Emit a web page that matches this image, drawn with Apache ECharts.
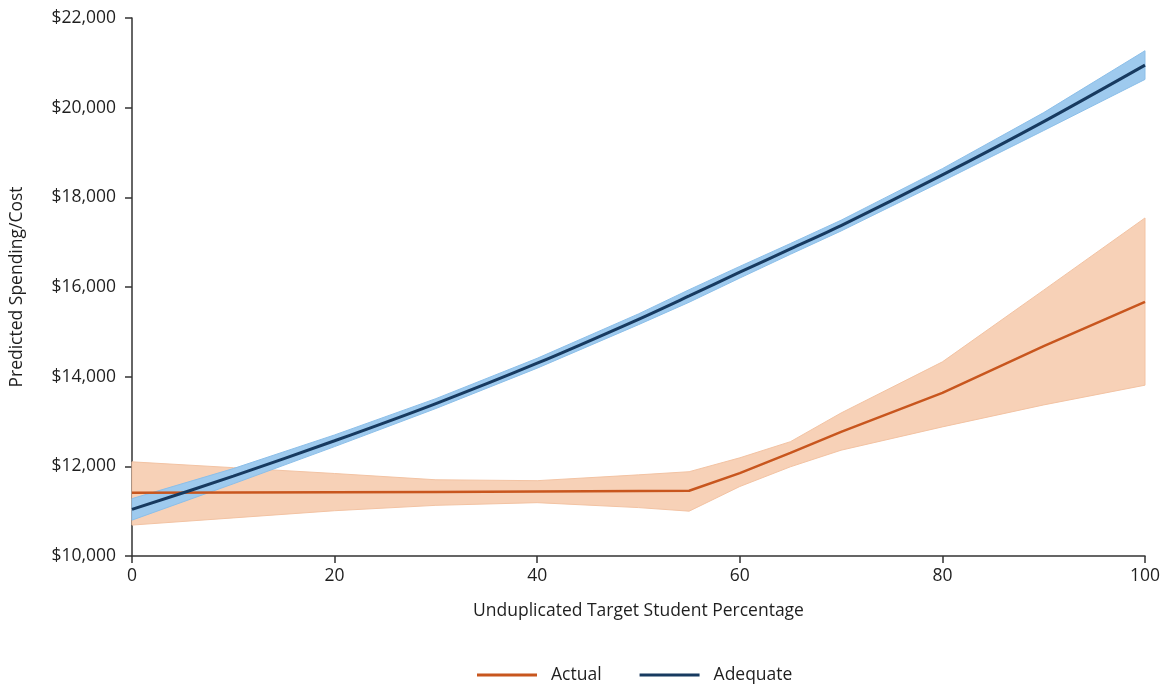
<!DOCTYPE html>
<html>
<head>
<meta charset="utf-8">
<script src="https://cdn.jsdelivr.net/npm/echarts@6/dist/echarts.min.js"></script>
<style>
html,body{margin:0;padding:0;background:#fff;}
#chart{width:1166px;height:684px;}
</style>
</head>
<body>
<div id="chart"></div>
<script>
const xs = [0, 10, 20, 30, 40, 50, 55, 60, 65, 70, 80, 90, 100];
const actual     = [11410, 11415, 11420, 11430, 11440, 11450, 11455, 11850, 12300, 12770, 13640, 14680, 15670];
const actualLow  = [10690, 10850, 11010, 11130, 11190, 11080, 11000, 11550, 11990, 12360, 12880, 13370, 13810];
const actualHigh = [12100, 11970, 11840, 11700, 11680, 11810, 11880, 12190, 12550, 13190, 14330, 15930, 17540];
const adequate     = [11040, 11780, 12570, 13400, 14300, 15280, 15800, 16330, 16850, 17370, 18500, 19690, 20950];
const adequateLow  = [10800, 11610, 12440, 13290, 14190, 15160, 15660, 16200, 16730, 17250, 18360, 19490, 20630];
const adequateHigh = [11280, 11950, 12700, 13510, 14410, 15400, 15940, 16460, 16970, 17490, 18640, 19890, 21270];
const xTicks = [0, 20, 40, 60, 80, 100];
const yTicks = [10000, 12000, 14000, 16000, 18000, 20000, 22000];

const pairs = (vals) => xs.map((x, i) => [x, vals[i]]);
const bandData = (lo, hi) => xs.map((x, i) => [x, lo[i], hi[i]]);

function bandRenderer(lo, hi, fill, stroke) {
  return function (params, api) {
    if (params.dataIndex !== 0) return null;
    const top = xs.map((x, i) => api.coord([x, hi[i]]));
    const bottom = xs.map((x, i) => api.coord([x, lo[i]])).reverse();
    return {
      type: 'polygon',
      shape: { points: top.concat(bottom) },
      style: { fill: fill, stroke: stroke, lineWidth: 1 },
      silent: true
    };
  };
}

const FONT = '"Open Sans", "Noto Sans", sans-serif';
const TXT = '#1f1f1f';
const FS = 17.5;

const chart = echarts.init(document.getElementById('chart'));
chart.setOption({
  animation: false,
  backgroundColor: '#fff',
  grid: { left: 132, right: 21, top: 18, bottom: 128 },
  legend: {
    data: ['Actual', 'Adequate'],
    top: 661,
    left: 472,
    icon: 'rect',
    itemWidth: 60,
    itemHeight: 3,
    itemGap: 38,
    textStyle: { fontFamily: FONT, fontSize: FS, color: TXT, padding: [0, 0, 0, 9] }
  },
  xAxis: {
    type: 'value',
    min: 0, max: 100, interval: 20,
    name: 'Unduplicated Target Student Percentage',
    nameLocation: 'middle',
    nameGap: 46,
    nameTextStyle: { fontFamily: FONT, fontSize: FS, color: TXT },
    axisLine: { show: true, lineStyle: { color: '#333', width: 1.5 } },
    axisTick: { show: true, length: 7, lineStyle: { color: '#333', width: 1.5 } },
    axisLabel: { fontFamily: FONT, fontSize: FS, color: TXT, margin: 11,
      formatter: (v) => xTicks.includes(v) ? String(v) : '' },
    splitLine: { show: false }
  },
  yAxis: {
    type: 'value',
    min: 10000, max: 22000, interval: 2000,
    name: 'Predicted Spending/Cost',
    nameLocation: 'middle',
    nameGap: 106,
    nameTextStyle: { fontFamily: FONT, fontSize: FS, color: TXT },
    axisLine: { show: true, lineStyle: { color: '#333', width: 1.5 } },
    axisTick: { show: true, length: 7, lineStyle: { color: '#333', width: 1.5 } },
    axisLabel: { fontFamily: FONT, fontSize: FS, color: TXT, margin: 16,
      formatter: (v) => yTicks.includes(v) ? '$' + v.toLocaleString('en-US') : '' },
    splitLine: { show: false }
  },
  series: [
    { name: 'actBand', type: 'custom', data: bandData(actualLow, actualHigh),
      renderItem: bandRenderer(actualLow, actualHigh, '#f7d1b7', '#f3c3a3'),
      encode: { x: 0, y: [1, 2] }, z: 1, silent: true },
    { name: 'adqBand', type: 'custom', data: bandData(adequateLow, adequateHigh),
      renderItem: bandRenderer(adequateLow, adequateHigh, '#9ecaee', '#8cbfe9'),
      encode: { x: 0, y: [1, 2] }, z: 2, silent: true },
    { name: 'Actual', type: 'line', data: pairs(actual), symbol: 'none', itemStyle: { color: '#c8561e' },
      lineStyle: { color: '#c8561e', width: 2.5 }, z: 3 },
    { name: 'Adequate', type: 'line', data: pairs(adequate), symbol: 'none', smooth: 0.3, itemStyle: { color: '#173a60' },
      lineStyle: { color: '#173a60', width: 3 }, z: 4 }
  ]
});
</script>
</body>
</html>
